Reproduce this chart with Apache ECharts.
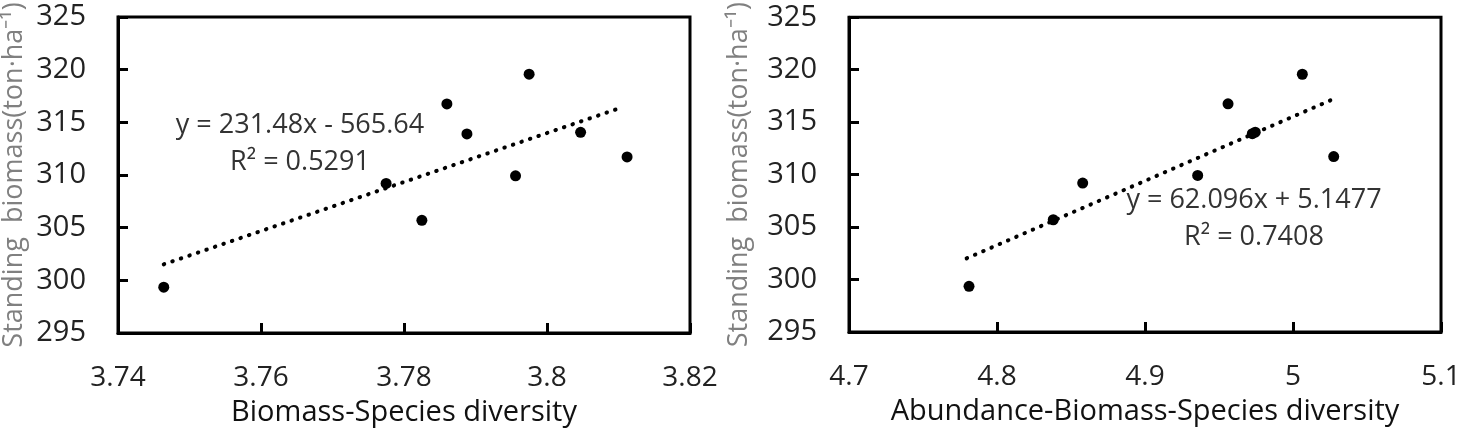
<!DOCTYPE html>
<html>
<head>
<meta charset="utf-8">
<script src="https://cdn.jsdelivr.net/npm/echarts@6/dist/echarts.min.js"></script>
<style>
  html, body { margin: 0; padding: 0; background: #fff; }
  #main { width: 1465px; height: 435px; }
</style>
</head>
<body>
<div id="main"></div>
<script>
// standing biomass (ton/ha), same plots in both panels
var biomass = [299.35, 309.2, 305.7, 316.75, 313.9, 309.92, 319.57, 314.05, 311.72];
// x values of each plot
var bsDiversity = [3.7464, 3.7775, 3.7825, 3.7860, 3.7888, 3.7956, 3.7975, 3.8047, 3.8112];
var absDiversity = [4.7811, 4.8579, 4.8380, 4.9561, 4.9725, 4.9356, 5.0063, 4.9745, 5.0275];

// fitted trend lines (end points)
var trendLeftX = [3.7464, 3.8107];
var trendLeftY = [301.52, 316.47];
var trendRightX = [4.7795, 5.0272];
var trendRightY = [302.02, 317.2];

var eqLeft = ['y = 231.48x - 565.64', 'R\u00b2 = 0.5291'];
var eqRight = ['y = 62.096x + 5.1477', 'R\u00b2 = 0.7408'];

var yName = 'Standing  biomass(ton\u00b7ha\u207b\u00b9)';
var xNames = ['Biomass-Species diversity', 'Abundance-Biomass-Species diversity'];

var font = 'Open Sans';
var txt = '#222';

function pairs(xs, ys) {
  var out = [];
  for (var i = 0; i < xs.length; i++) out.push([xs[i], ys[i]]);
  return out;
}

function xAxisCfg(idx, min, max, step) {
  return {
    type: 'value', gridIndex: idx, min: min, max: max, interval: step,
    name: xNames[idx], nameLocation: 'middle', nameGap: 65,
    nameTextStyle: { fontFamily: font, fontSize: 29, color: '#111' },
    axisLine: { lineStyle: { color: '#000', width: 3 } },
    axisTick: { inside: true, length: 10, lineStyle: { color: '#000', width: 3 } },
    axisLabel: { fontFamily: font, fontSize: 28, color: txt, margin: 31 },
    splitLine: { show: false }
  };
}

function yAxisCfg(idx, gap) {
  return {
    type: 'value', gridIndex: idx, min: 295, max: 325, interval: 5,
    name: yName, nameLocation: 'middle', nameGap: gap,
    nameTextStyle: { fontFamily: font, fontSize: 27, color: '#808080' },
    axisLine: { lineStyle: { color: '#000', width: 3 } },
    axisTick: { inside: true, length: 10, lineStyle: { color: '#000', width: 3 } },
    axisLabel: { fontFamily: font, fontSize: 29, color: txt, margin: 32 },
    splitLine: { show: false }
  };
}

function eqText(lines, cx, cy) {
  return [
    { type: 'text', x: cx, y: cy, style: { text: lines[0], align: 'center', verticalAlign: 'middle', fontFamily: font, fontSize: 27, fill: '#333' } },
    { type: 'text', x: cx, y: cy + 37, style: { text: lines[1], align: 'center', verticalAlign: 'middle', fontFamily: font, fontSize: 27, fill: '#333' } }
  ];
}

var scatterStyle = { color: '#000', opacity: 1 };
var trendStyle = { color: '#000', width: 4, type: [0.5, 8.5], cap: 'round' };

var chart = echarts.init(document.getElementById('main'));
chart.setOption({
  animation: false,
  backgroundColor: '#fff',
  grid: [
    { left: 113, top: 17, width: 577, height: 316, show: true, borderColor: '#000', borderWidth: 3, backgroundColor: 'transparent' },
    { left: 849, top: 13, width: 592, height: 319, show: true, borderColor: '#000', borderWidth: 3, backgroundColor: 'transparent' }
  ],
  xAxis: [
    xAxisCfg(0, 3.74, 3.82, 0.02),
    xAxisCfg(1, 4.7, 5.1, 0.1)
  ],
  yAxis: [
    yAxisCfg(0, 90),
    yAxisCfg(1, 96)
  ],
  series: [
    { type: 'line', xAxisIndex: 0, yAxisIndex: 0, data: pairs(trendLeftX, trendLeftY), symbol: 'none', lineStyle: trendStyle, z: 2 },
    { type: 'scatter', xAxisIndex: 0, yAxisIndex: 0, data: pairs(bsDiversity, biomass), symbolSize: 11, itemStyle: scatterStyle, z: 3 },
    { type: 'line', xAxisIndex: 1, yAxisIndex: 1, data: pairs(trendRightX, trendRightY), symbol: 'none', lineStyle: trendStyle, z: 2 },
    { type: 'scatter', xAxisIndex: 1, yAxisIndex: 1, data: pairs(absDiversity, biomass), symbolSize: 11, itemStyle: scatterStyle, z: 3 }
  ],
  graphic: eqText(eqLeft, 300, 125).concat(eqText(eqRight, 1254, 200))
});
</script>
</body>
</html>
